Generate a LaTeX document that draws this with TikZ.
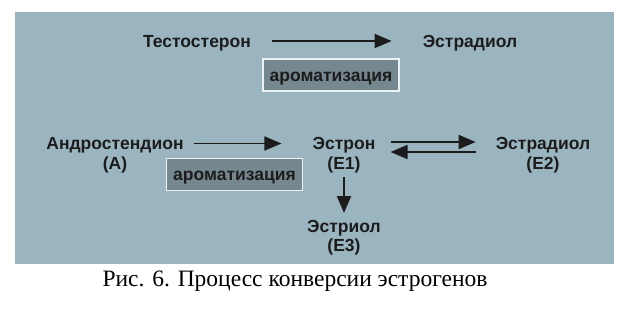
\documentclass[tikz,border=0pt]{standalone}
\usepackage{fontspec}
\setmainfont{Liberation Serif}
\setsansfont{Liberation Sans}
\usetikzlibrary{arrows.meta}
\definecolor{panelbg}{RGB}{155,181,192}
\definecolor{enzfill}{RGB}{117,135,143}
\definecolor{enzline}{RGB}{236,241,243}
\definecolor{ink}{RGB}{28,28,28}

\begin{document}
\begin{tikzpicture}[x=1pt, y=-1pt,
    chem/.style={font=\sffamily\bfseries\fontsize{17.5}{19}\selectfont, text=ink,
        inner sep=0pt, text height=12.5pt, text depth=0pt},
    enzbox/.style={chem, draw=enzline, line width=1.4pt, fill=enzfill,
        minimum width=136pt, minimum height=32pt},
    conv/.style={draw=ink, line width=1.8pt, -{Triangle[length=17pt,width=14pt]}}]
    \useasboundingbox (0,0) rectangle (634,312);
    \fill[panelbg] (15,12) rectangle (614,264);

    % upper row
    \node[chem] (testo) at (197,41) {Тестостерон};
    \node[chem] (estrA) at (470,41) {Эстрадиол};
    \node[enzbox] (aromA) at (331,75) {ароматизация};
    \draw[conv, shorten <=21pt, shorten >=31pt] (testo.east) -- (estrA.west);

    % lower row
    \node[chem] (andro) at (115,143.5) {Андростендион};
    \node[chem] (andrA) at (115,163) {(A)};
    \node[chem] (estron) at (344,143.5) {Эстрон};
    \node[chem] (estronE) at (344,163) {(E1)};
    \node[chem] (estrB) at (543,143.5) {Эстрадиол};
    \node[chem] (estrBE) at (543,163) {(E2)};
    \node[chem] (estriol) at (344,226.5) {Эстриол};
    \node[chem] (estriolE) at (344,245) {(E3)};
    \node[enzbox] (aromB) at (234.5,174.5) {ароматизация};

    \draw[conv, shorten <=10pt, shorten >=31pt] (andro.east) -- (estron.west);
    \draw[conv, shorten <=15pt, shorten >=20pt] ([yshift=1.5pt]estron.east) -- ([yshift=1.5pt]estrB.west);
    \draw[conv, shorten <=20pt, shorten >=15pt] ([yshift=-8.5pt]estrB.west) -- ([yshift=-8.5pt]estron.east);
    \draw[conv, shorten <=8pt, shorten >=7pt] (estronE.south) -- (estriol.north);

    % caption
    \node[font=\fontsize{23.5}{25}\selectfont, anchor=base, inner sep=0pt] (cap) at (295,286)
        {Рис. 6. Процесс конверсии эстрогенов};
\end{tikzpicture}
\end{document}
